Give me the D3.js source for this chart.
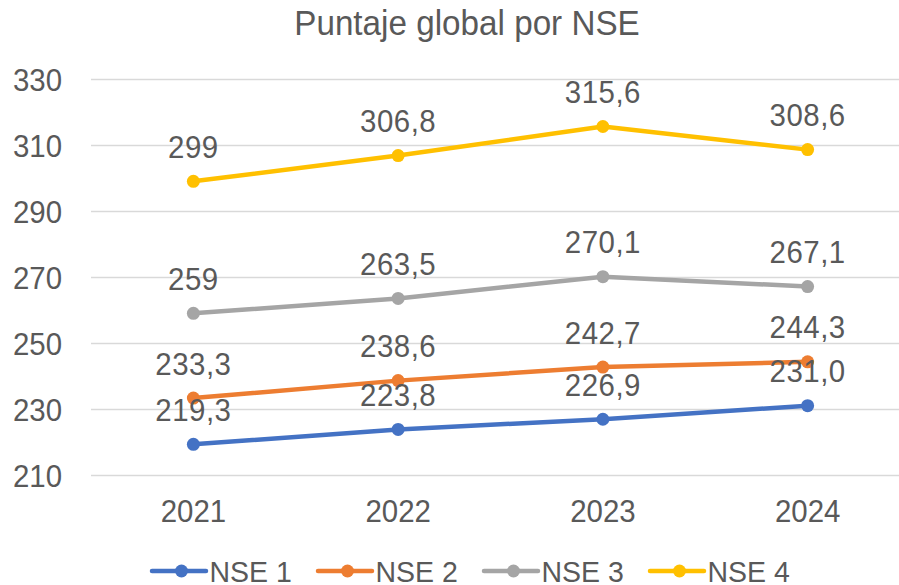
<!DOCTYPE html>
<html>
<head>
<meta charset="utf-8">
<script src="https://cdn.jsdelivr.net/npm/d3@7"></script>
<style>
  body { margin: 0; background: #fff; }
  svg { display: block; font-family: "Liberation Sans", Arial, sans-serif; }
</style>
</head>
<body>
<svg id="chart" width="899" height="585"></svg>
<script>
const years = ["2021", "2022", "2023", "2024"];
const seriesNames = ["NSE 1", "NSE 2", "NSE 3", "NSE 4"];
const nse1 = [219.3, 223.8, 226.9, 231.0];
const nse2 = [233.3, 238.6, 242.7, 244.3];
const nse3 = [259, 263.5, 270.1, 267.1];
const nse4 = [299, 306.8, 315.6, 308.6];
const nse1Labels = ["219,3", "223,8", "226,9", "231,0"];
const nse2Labels = ["233,3", "238,6", "242,7", "244,3"];
const nse3Labels = ["259", "263,5", "270,1", "267,1"];
const nse4Labels = ["299", "306,8", "315,6", "308,6"];
const yTicks = [210, 230, 250, 270, 290, 310, 330];
const colors = ["#4472C4", "#ED7D31", "#A5A5A5", "#FFC000"];

const width = 899,
  height = 585,
  margin = { left: 91, right: -11, top: 79, bottom: 110 };
const squeeze = 0.95; // text in the original is a little narrower

const allLabels = [nse1Labels, nse2Labels, nse3Labels, nse4Labels];
const series = [nse1, nse2, nse3, nse4].map((vals, i) => ({
  name: seriesNames[i],
  color: colors[i],
  values: vals.map((v, j) => ({ year: years[j], value: v, label: allLabels[i][j] })),
}));

const svg = d3.select("#chart");

const x = d3.scaleBand().domain(years).range([margin.left, width - margin.right]);
const y = d3.scaleLinear().domain([210, 330]).range([height - margin.bottom, margin.top]);

// title
svg.append("text")
  .attr("transform", `translate(467,35) scale(${squeeze},1)`)
  .attr("text-anchor", "middle")
  .attr("font-size", 35)
  .attr("fill", "#595959")
  .text("Puntaje global por NSE");

// gridlines + y labels
const yAxis = svg.append("g")
  .attr("transform", `translate(${margin.left},0)`)
  .call(d3.axisLeft(y).tickValues(yTicks).tickSize(-(width - margin.right - margin.left)).tickPadding(30.5));
yAxis.select(".domain").remove();
yAxis.selectAll(".tick line").attr("stroke", "#D9D9D9").attr("stroke-width", 1.3);
yAxis.selectAll(".tick text")
  .attr("fill", "#595959")
  .attr("font-size", 31)
  .attr("dy", "0.37em")
  .attr("transform", `scale(${squeeze},1)`)
  .attr("font-family", "Liberation Sans, Arial, sans-serif");

// x labels
const xAxis = svg.append("g")
  .attr("transform", `translate(0,${height - margin.bottom})`)
  .call(d3.axisBottom(x).tickSize(0).tickPadding(25));
xAxis.select(".domain").remove();
xAxis.selectAll(".tick text")
  .attr("fill", "#595959")
  .attr("font-size", 31)
  .attr("transform", `scale(${squeeze},1)`)
  .attr("font-family", "Liberation Sans, Arial, sans-serif");

const cx = (d) => x(d.year) + x.bandwidth() / 2;
const line = d3.line().x(cx).y((d) => y(d.value));

const g = svg.append("g");
series.forEach((s) => {
  g.append("path")
    .datum(s.values)
    .attr("fill", "none")
    .attr("stroke", s.color)
    .attr("stroke-width", 4.5)
    .attr("stroke-linejoin", "round")
    .attr("stroke-linecap", "round")
    .attr("d", line);
  g.selectAll(null)
    .data(s.values)
    .join("circle")
    .attr("cx", cx)
    .attr("cy", (d) => y(d.value))
    .attr("r", 6.5)
    .attr("fill", s.color);
});

// data labels
series.forEach((s) => {
  g.selectAll(null)
    .data(s.values)
    .join("text")
    .attr("transform", (d) => `translate(${cx(d)},${y(d.value) - 23.5}) scale(${squeeze},1)`)
    .attr("text-anchor", "middle")
    .attr("font-size", 31)
    .attr("letter-spacing", 0.5)
    .attr("fill", "#595959")
    .text((d) => d.label);
});

// legend
const legend = svg.append("g").attr("transform", "translate(152,571)");
const item = legend.selectAll("g")
  .data(series)
  .join("g")
  .attr("transform", (d, i) => `translate(${i * 166},0)`);
item.append("line")
  .attr("x1", 0).attr("x2", 54)
  .attr("stroke", (d) => d.color)
  .attr("stroke-width", 4.5)
  .attr("stroke-linecap", "round");
item.append("circle")
  .attr("cx", 29.5).attr("r", 6.5)
  .attr("fill", (d) => d.color);
item.append("text")
  .attr("transform", `translate(57.5,11) scale(${squeeze},1)`)
  .attr("font-size", 30)
  .attr("fill", "#595959")
  .text((d) => d.name);
</script>
</body>
</html>
